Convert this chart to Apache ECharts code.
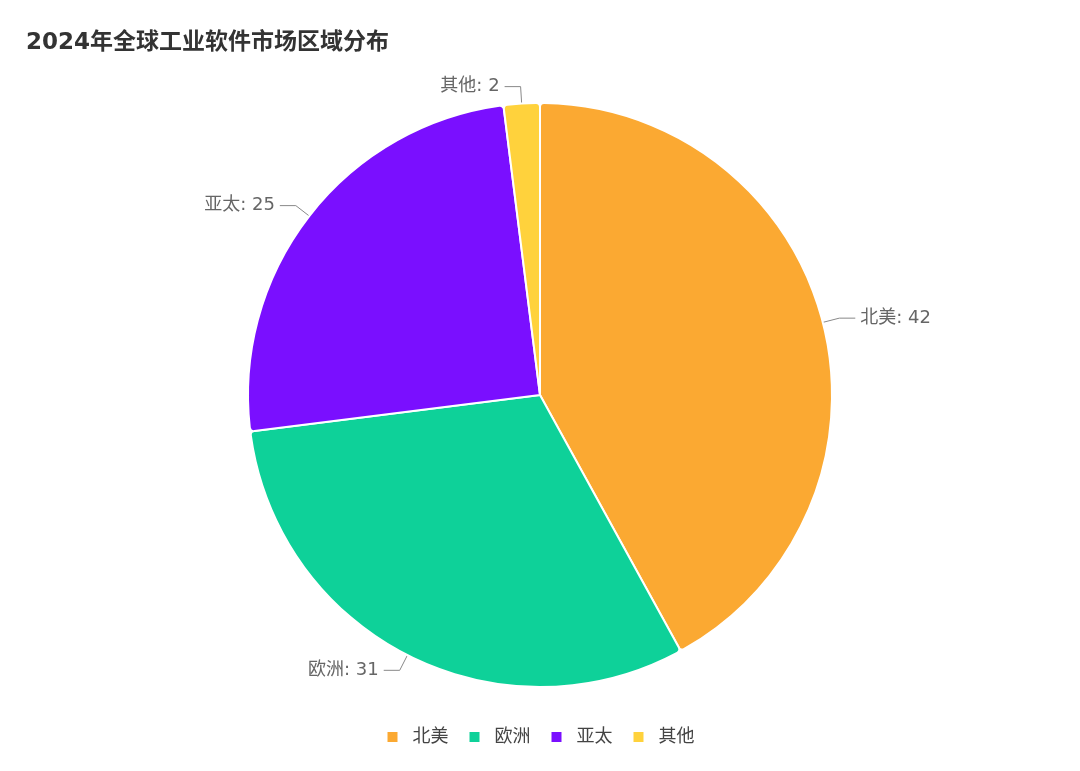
<!DOCTYPE html>
<html><head><meta charset="utf-8">
<script src="https://cdn.jsdelivr.net/npm/echarts@6/dist/echarts.min.js"></script>
<style>html,body{margin:0;padding:0;background:#fff}#c{width:1080px;height:771px}</style>
</head><body><div id="c"></div>
<script>
const categories = ['北美', '欧洲', '亚太', '其他'];
const values = [42, 31, 25, 2];
const colors = ['#FBA932', '#0ED199', '#7A0FFF', '#FFD23C'];
const FONT = 'DejaVu Sans, Noto Sans CJK SC, sans-serif';
const chart = echarts.init(document.getElementById('c'));
chart.setOption({
  title: { text: '2024年全球工业软件市场区域分布', left: 21, top: 27,
    textStyle: { fontSize: 23, fontWeight: 'bold', color: '#333', fontFamily: FONT } },
  legend: { bottom: 20, left: 'center', itemWidth: 12, itemHeight: 12, itemGap: 19, icon: 'rect',
    textStyle: { fontSize: 18, color: '#444', fontFamily: FONT, padding: [0, 0, 0, 9] }, data: categories },
  color: colors,
  series: [{
    type: 'pie', center: [540, 395], radius: 292, startAngle: 90,
    itemStyle: { borderColor: '#fff', borderWidth: 2, borderRadius: 4 },
    label: { formatter: '{b}: {c}', fontSize: 18, color: '#666', fontFamily: FONT },
    labelLine: { length: 17, length2: 16, lineStyle: { color: '#888' } },
    data: categories.map((n, i) => ({ name: n, value: values[i] }))
  }]
});
</script></body></html>
